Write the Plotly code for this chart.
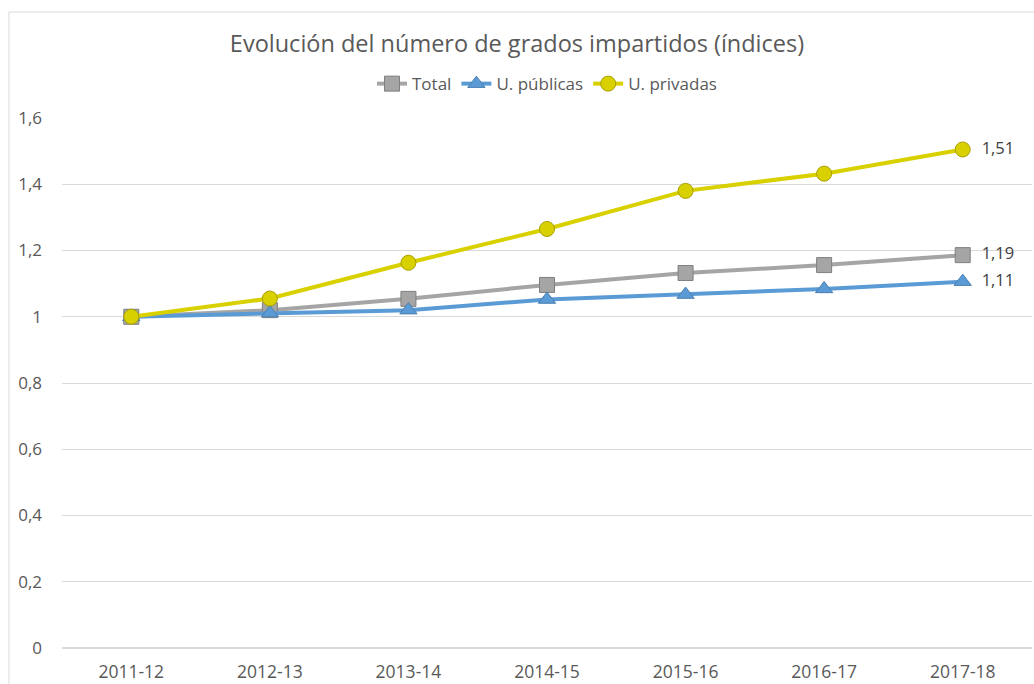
import plotly.graph_objects as go

years = ["2011-12", "2012-13", "2013-14", "2014-15", "2015-16", "2016-17", "2017-18"]
total = [1.0, 1.02, 1.054, 1.096, 1.132, 1.156, 1.186]
publicas = [1.0, 1.011, 1.02, 1.052, 1.067, 1.084, 1.106]
privadas = [1.0, 1.055, 1.163, 1.265, 1.38, 1.432, 1.505]
end_labels = ["1,19", "1,11", "1,51"]

series = [
    ("Total", total, "#A5A5A5", "#7F7F7F", "square", end_labels[0]),
    ("U. públicas", publicas, "#5B9BD5", "#4A7FB0", "triangle-up", end_labels[1]),
    ("U. privadas", privadas, "#D9D000", "#A8A000", "circle", end_labels[2]),
]

font = "Open Sans"
fig = go.Figure()
for name, vals, col, edge, sym, lab in series:
    texts = [""] * (len(vals) - 1) + ["  " + lab]
    fig.add_trace(go.Scatter(
        x=years, y=vals, name=name, mode="lines+markers+text",
        line=dict(color=col, width=4),
        marker=dict(symbol=sym, size=15, color=col, line=dict(color=edge, width=1)),
        text=texts, textposition="middle right",
        textfont=dict(family=font, size=16.5, color="#404040"),
        cliponaxis=False,
    ))

fig.update_layout(
    width=1034, height=684,
    margin=dict(l=62, r=2, t=118, b=36),
    paper_bgcolor="white", plot_bgcolor="white",
    separators=",.",
    title=dict(text="Evolución del número de grados impartidos (índices)",
               x=0.5, xanchor="center", y=1 - 44 / 684, yanchor="middle",
               font=dict(family=font, size=23.5, color="#595959")),
    legend=dict(orientation="h", x=0.5, xanchor="center", y=1.064, yanchor="middle",
                font=dict(family=font, size=17, color="#595959"), itemwidth=30,
                tracegroupgap=0),
    showlegend=True,
    shapes=[dict(type="rect", xref="paper", yref="paper", x0=-53 / 969, x1=1.05,
                 y0=-0.2, y1=(648 - 12) / 530, line=dict(color="#D9D9D9", width=1),
                 fillcolor="rgba(0,0,0,0)", layer="below")],
)
fig.update_xaxes(type="category", showgrid=False, showline=False, ticks="",
                 tickfont=dict(family=font, size=17.5, color="#595959"),
                 range=[-0.5, 6.5], ticklabelstandoff=11)
fig.update_yaxes(range=[0, 1.6], dtick=0.2, showgrid=True, gridcolor="#D9D9D9",
                 gridwidth=1, zeroline=True, zerolinecolor="#D9D9D9", showline=False,
                 tickfont=dict(family=font, size=17, color="#595959"),
                 ticklabelstandoff=19)
fig.write_html("out.html", config={"displayModeBar": False},
               post_script="document.body.style.margin='0';document.body.style.overflow='hidden';")
